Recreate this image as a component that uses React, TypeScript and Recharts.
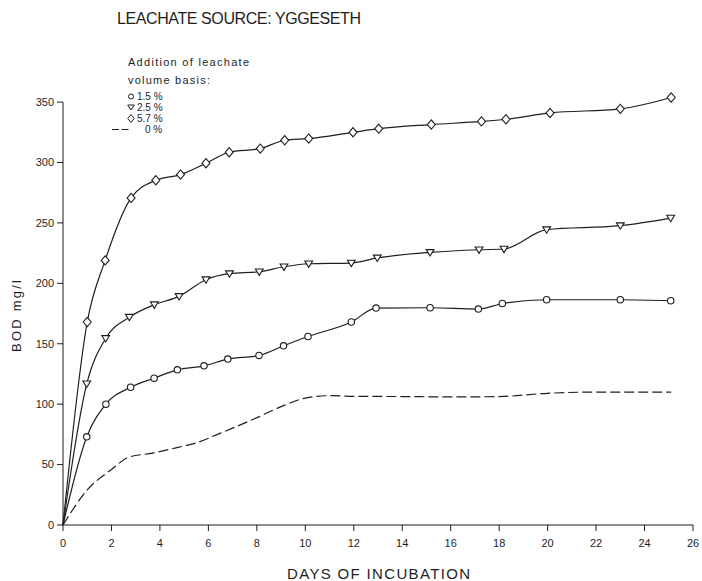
import React from 'react';
import { LineChart, Line, XAxis, YAxis, ReferenceLine } from 'recharts';

// 1.5 % series (circles)
const daysLow = [0, 0.98, 1.77, 2.79, 3.76, 4.72, 5.82, 6.8, 8.09, 9.1, 10.11, 11.9, 12.92, 15.15, 17.14, 18.13, 19.96, 23.0, 25.08];
const bodLow = [0, 73, 100, 114, 121.5, 128.4, 131.7, 137.3, 140.3, 148.3, 156, 168, 179.5, 179.8, 178.7, 183.3, 186.4, 186.4, 185.6];

// 2.5 % series (triangles)
const daysMid = [0, 0.98, 1.76, 2.74, 3.77, 4.79, 5.9, 6.87, 8.1, 9.12, 10.14, 11.9, 12.97, 15.15, 17.17, 18.2, 19.96, 23.0, 25.08];
const bodMid = [0, 116.8, 154.4, 172, 182.3, 189.2, 203, 208, 209.6, 213.7, 216.2, 216.8, 221, 225.6, 227.8, 228.4, 244.4, 247.7, 254];

// 5.7 % series (diamonds)
const daysHigh = [0, 1.0, 1.74, 2.81, 3.83, 4.85, 5.9, 6.86, 8.14, 9.15, 10.14, 11.97, 13.03, 15.2, 17.27, 18.28, 20.1, 23.0, 25.1];
const bodHigh = [0, 168, 219, 270.7, 285.3, 290, 299.4, 308.5, 311.5, 318.4, 319.8, 325, 328, 331.4, 334, 335.8, 341, 344.4, 353.8];

// 0 % series (dashed, no markers)
const daysZero = [0, 1, 2, 2.7, 3.7, 4.7, 5.5, 6.5, 8.1, 9, 10, 11, 12, 14, 16, 18, 20, 22, 25.1];
const bodZero = [0, 29, 46, 56, 59.5, 64, 68, 76, 89.7, 98, 105, 107, 106.5, 106.3, 106, 106.3, 109, 110, 110];

const xTicks = [0, 2, 4, 6, 8, 10, 12, 14, 16, 18, 20, 22, 24, 26];
const yTicks = [0, 50, 100, 150, 200, 250, 300, 350];
const yAxisTop = 350;

const legendTitle = ['Addition of leachate', 'volume basis:'];
const legendLabels = ['1.5 %', '2.5 %', '5.7 %', '0 %'];
const chartTitle = 'LEACHATE SOURCE: YGGESETH';
const xTitle = 'DAYS OF INCUBATION';
const yTitle = 'BOD mg/l';

const toRows = (days: number[], vals: number[]) => days.map((d, i) => ({ day: d, v: vals[i] }));

const INK = '#1e1e1e';
const FONT = '"Liberation Sans", Arial, sans-serif';

const circleDot = (p: any) => {
  const { cx, cy, index } = p;
  if (index === 0) return <g key={`c${index}`} />;
  return <circle key={`c${index}`} cx={cx} cy={cy} r={3.2} fill="#fff" stroke={INK} strokeWidth={1.1} />;
};
const triDot = (p: any) => {
  const { cx, cy, index } = p;
  if (index === 0) return <g key={`t${index}`} />;
  const pts = `${cx - 3.9},${cy - 2.8} ${cx + 3.9},${cy - 2.8} ${cx},${cy + 3.6}`;
  return <polygon key={`t${index}`} points={pts} fill="#fff" stroke={INK} strokeWidth={1.1} />;
};
const diaDot = (p: any) => {
  const { cx, cy, index } = p;
  if (index === 0) return <g key={`d${index}`} />;
  const pts = `${cx},${cy - 4.6} ${cx + 4},${cy} ${cx},${cy + 4.6} ${cx - 4},${cy}`;
  return <polygon key={`d${index}`} points={pts} fill="#fff" stroke={INK} strokeWidth={1.1} />;
};

export default function App() {
  const tickStyle = { fill: INK, fontSize: 11, fontFamily: FONT };
  return (
    <div style={{ position: 'absolute', left: 0, top: 0, width: 702, height: 581, background: '#fff' }}>
      <LineChart width={702} height={581} margin={{ top: 90, right: 9, bottom: 26, left: 13 }}>
        <XAxis
          dataKey="day"
          type="number"
          domain={[0, 26]}
          ticks={xTicks}
          tickSize={6}
          tickMargin={8}
          height={30}
          tick={tickStyle}
          axisLine={{ stroke: INK, strokeWidth: 1 }}
          tickLine={{ stroke: INK, strokeWidth: 1 }}
        />
        <YAxis
          type="number"
          domain={[0, 360]}
          ticks={yTicks}
          width={50}
          tickSize={6}
          tickMargin={3}
          tick={tickStyle}
          axisLine={false}
          tickLine={{ stroke: INK, strokeWidth: 1 }}
        />
        <ReferenceLine segment={[{ x: 0, y: 0 }, { x: 0, y: yAxisTop }]} stroke={INK} strokeWidth={1} ifOverflow="visible" />
        <Line data={toRows(daysZero, bodZero)} dataKey="v" type="monotone" stroke={INK} strokeWidth={1.2} strokeDasharray="10 4" dot={false} isAnimationActive={false} />
        <Line data={toRows(daysLow, bodLow)} dataKey="v" type="monotone" stroke={INK} strokeWidth={1.2} dot={circleDot} isAnimationActive={false} />
        <Line data={toRows(daysMid, bodMid)} dataKey="v" type="monotone" stroke={INK} strokeWidth={1.2} dot={triDot} isAnimationActive={false} />
        <Line data={toRows(daysHigh, bodHigh)} dataKey="v" type="monotone" stroke={INK} strokeWidth={1.2} dot={diaDot} isAnimationActive={false} />
      </LineChart>
      <svg width={702} height={581} style={{ position: 'absolute', left: 0, top: 0, pointerEvents: 'none' }}>
        <text x={117} y={24} fontFamily={FONT} fontSize={16} fill={INK} textLength={244} lengthAdjust="spacing">{chartTitle}</text>
        <text x={128} y={66} fontFamily={FONT} fontSize={11} fill={INK} textLength={121} lengthAdjust="spacing">{legendTitle[0]}</text>
        <text x={128} y={84} fontFamily={FONT} fontSize={11} fill={INK} textLength={82} lengthAdjust="spacing">{legendTitle[1]}</text>
        <circle cx={131} cy={96.5} r={2.5} fill="#fff" stroke={INK} strokeWidth={1} />
        <text x={137} y={100} fontFamily={FONT} fontSize={10} fill={INK}>{legendLabels[0]}</text>
        <polygon points="127.7,105 134.3,105 131,110" fill="#fff" stroke={INK} strokeWidth={1} />
        <text x={137} y={111} fontFamily={FONT} fontSize={10} fill={INK}>{legendLabels[1]}</text>
        <polygon points="131,114.5 134.2,118.5 131,122.5 127.8,118.5" fill="#fff" stroke={INK} strokeWidth={1} />
        <text x={137} y={122} fontFamily={FONT} fontSize={10} fill={INK}>{legendLabels[2]}</text>
        <line x1={112} y1={129.5} x2={129} y2={129.5} stroke={INK} strokeWidth={1.1} strokeDasharray="7 2.5" />
        <text x={145} y={133} fontFamily={FONT} fontSize={10} fill={INK}>{legendLabels[3]}</text>
        <text x={287} y={579} fontFamily={FONT} fontSize={15} fill={INK} textLength={183} lengthAdjust="spacing">{xTitle}</text>
        <text x={0} y={0} transform="translate(21,352) rotate(-90)" fontFamily={FONT} fontSize={13} fill={INK} textLength={72} lengthAdjust="spacing">{yTitle}</text>
      </svg>
    </div>
  );
}
